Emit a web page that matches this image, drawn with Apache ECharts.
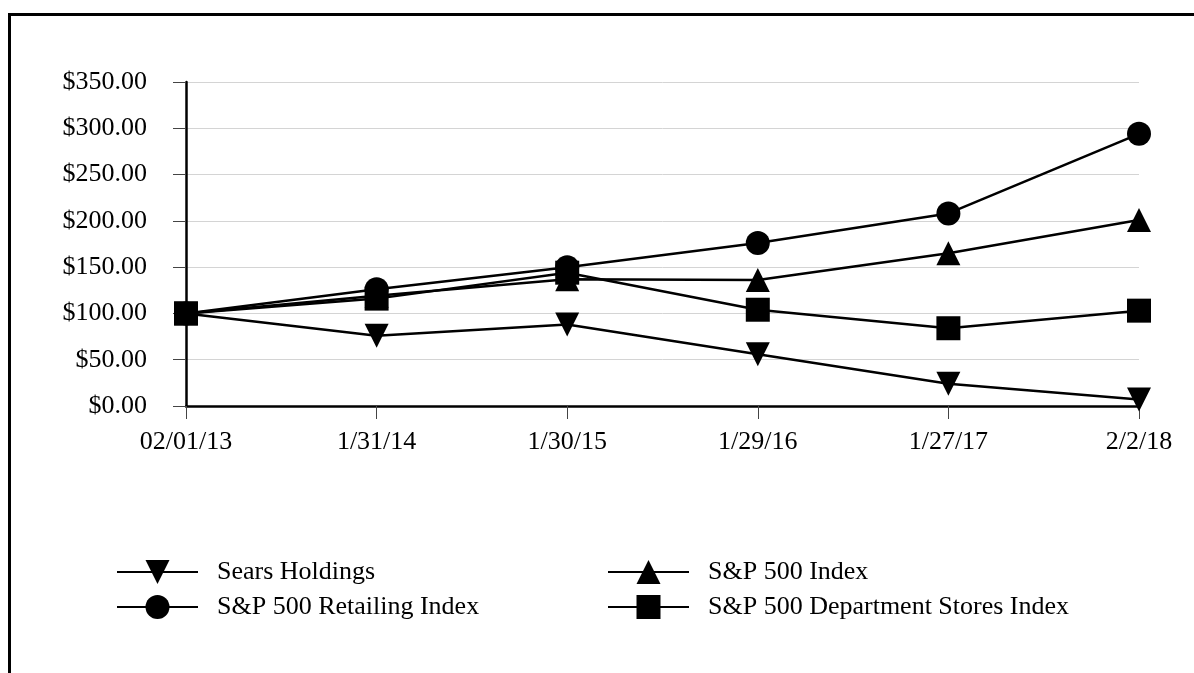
<!DOCTYPE html>
<html>
<head>
<meta charset="utf-8">
<script src="https://cdn.jsdelivr.net/npm/echarts@6/dist/echarts.min.js"></script>
<style>
  html, body { margin: 0; padding: 0; background: #fff; }
  #main { width: 1194px; height: 673px; }
</style>
</head>
<body>
<div id="main"></div>
<script>
// dates on the x axis
var categories = ['02/01/13', '1/31/14', '1/30/15', '1/29/16', '1/27/17', '2/2/18'];

// cumulative return of $100
var searsHoldings = [100, 76, 88, 56, 24, 7];
var sp500Index = [100, 119, 137, 136, 165, 201];
var sp500Retailing = [100, 126, 150, 176, 208, 294];
var sp500DeptStores = [100, 116, 144, 104, 84, 103];

var font = 'Liberation Serif, Times New Roman, serif';

var chart = echarts.init(document.getElementById('main'));

function lineSeries(name, data, symbol, rotate) {
	return {
		name: name,
		type: 'line',
		data: data,
		symbol: symbol,
		symbolSize: 24,
		symbolRotate: rotate || 0,
		showAllSymbol: true,
		animation: false,
		lineStyle: { color: '#000', width: 2.5 },
		itemStyle: { color: '#000' }
	};
}

var legendCommon = {
	orient: 'vertical',
	padding: 0,
	itemWidth: 81,
	itemHeight: 30,
	itemGap: 9,
	selectedMode: false,
	textStyle: {
		fontFamily: font,
		fontSize: 26,
		color: '#000',
		padding: [0, 0, 0, 14]
	}
};

var option = {
	backgroundColor: '#fff',
	animation: false,
	grid: {
		left: 186,
		right: 55,
		top: 82,
		bottom: 267
	},
	xAxis: {
		type: 'category',
		data: categories,
		boundaryGap: false,
		axisLine: { lineStyle: { color: '#000', width: 2.5 } },
		axisTick: { length: 13, lineStyle: { color: '#444', width: 1 } },
		axisLabel: {
			margin: 23,
			fontFamily: font,
			fontSize: 26,
			color: '#000'
		}
	},
	yAxis: {
		type: 'value',
		min: 0,
		max: 350,
		interval: 50,
		axisLine: { show: true, lineStyle: { color: '#000', width: 2.5 } },
		axisTick: { show: true, length: 13, lineStyle: { color: '#444', width: 1 } },
		splitLine: { lineStyle: { color: '#d4d4d4', width: 1 } },
		axisLabel: {
			margin: 39,
			fontFamily: font,
			fontSize: 26,
			color: '#000',
			formatter: function (v) { return '$' + v.toFixed(2); }
		}
	},
	legend: [
		Object.assign({ left: 116, top: 559, data: ['Sears Holdings', 'S&P 500 Retailing Index'] }, legendCommon),
		Object.assign({ left: 607, top: 559, data: ['S&P 500 Index', 'S&P 500 Department Stores Index'] }, legendCommon)
	],
	graphic: [{
		type: 'polyline',
		shape: { points: [[9.5, 673], [9.5, 14.5], [1194, 14.5]] },
		style: { stroke: '#000', lineWidth: 3, fill: null }
	}],
	series: [
		lineSeries('Sears Holdings', searsHoldings, 'triangle', 180),
		lineSeries('S&P 500 Index', sp500Index, 'triangle'),
		lineSeries('S&P 500 Retailing Index', sp500Retailing, 'circle'),
		lineSeries('S&P 500 Department Stores Index', sp500DeptStores, 'rect')
	]
};

chart.setOption(option);
</script>
</body>
</html>
